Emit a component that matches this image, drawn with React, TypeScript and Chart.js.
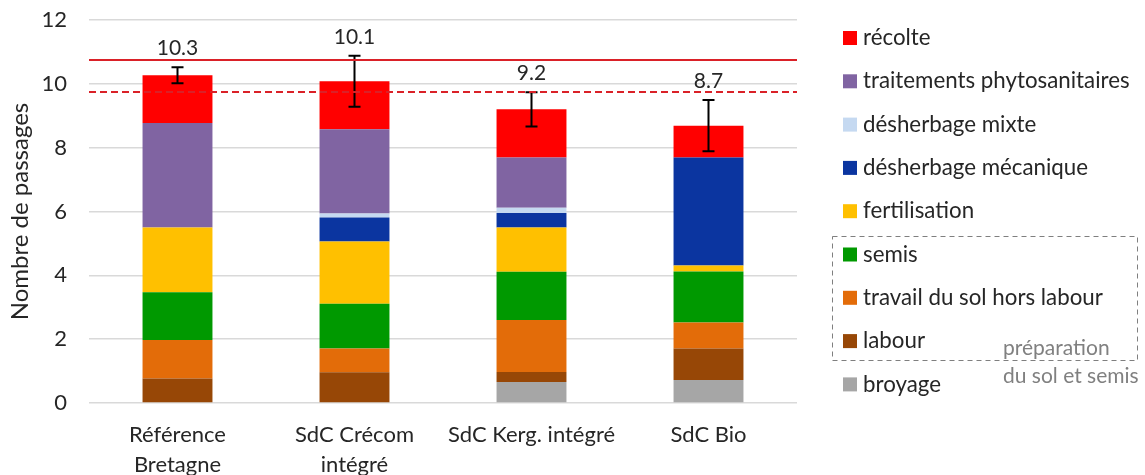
import React, { useEffect, useRef } from "react";
import { Chart, registerables } from "chart.js";

Chart.register(...registerables);

const categories: (string | string[])[] = [
  ["Référence", "Bretagne"],
  ["SdC Crécom", "intégré"],
  "SdC Kerg. intégré",
  "SdC Bio",
];

// stack bottom -> top
const broyage = [0, 0, 0.66, 0.72];
const labour = [0.77, 0.96, 0.31, 0.99];
const travailSol = [1.2, 0.75, 1.63, 0.81];
const semis = [1.5, 1.4, 1.51, 1.6];
const fertilisation = [2.03, 1.95, 1.39, 0.19];
const desherbageMecanique = [0, 0.75, 0.45, 3.38];
const desherbageMixte = [0, 0.13, 0.17, 0];
const traitementsPhyto = [3.27, 2.64, 1.57, 0];
const recolte = [1.5, 1.5, 1.51, 1.0];

const errorPlusMinus = [0.25, 0.8, 0.54, 0.8];
const refLineSolid = 10.74;
const refLineDashed = 9.75;

const yTicks = [0, 2, 4, 6, 8, 10, 12];

const seriesNames = [
  "broyage",
  "labour",
  "travail du sol hors labour",
  "semis",
  "fertilisation",
  "désherbage mécanique",
  "désherbage mixte",
  "traitements phytosanitaires",
  "récolte",
];
const seriesValues = [
  broyage,
  labour,
  travailSol,
  semis,
  fertilisation,
  desherbageMecanique,
  desherbageMixte,
  traitementsPhyto,
  recolte,
];
const seriesColors = [
  "#A6A6A6",
  "#974706",
  "#E36C09",
  "#009900",
  "#FFC000",
  "#0B35A0",
  "#C5D9F1",
  "#8064A2",
  "#FF0000",
];

const FONT = "Lato";
const TEXT = "#262626";

const overlayPlugin = {
  id: "overlay",
  afterDatasetsDraw(chart: any) {
    const { ctx, chartArea, scales } = chart;
    const x = scales.x;
    const y = scales.y;
    ctx.save();
    // error bars + totals
    categories.forEach((_, i) => {
      const total = seriesValues.reduce((s, arr) => s + arr[i], 0);
      const e = errorPlusMinus[i];
      const cx = x.getPixelForValue(i);
      const yTop = y.getPixelForValue(total + e);
      const yBot = y.getPixelForValue(total - e);
      ctx.strokeStyle = "#000000";
      ctx.lineWidth = 2;
      ctx.beginPath();
      ctx.moveTo(cx, yTop);
      ctx.lineTo(cx, yBot);
      ctx.moveTo(cx - 6, yTop);
      ctx.lineTo(cx + 6, yTop);
      ctx.moveTo(cx - 6, yBot);
      ctx.lineTo(cx + 6, yBot);
      ctx.stroke();
      ctx.fillStyle = TEXT;
      ctx.font = `21px ${FONT}`;
      ctx.textAlign = "center";
      ctx.textBaseline = "middle";
      ctx.fillText(total.toFixed(1), cx, yTop - 19);
    });
    // reference lines
    ctx.strokeStyle = "#DA2128";
    ctx.lineWidth = 2;
    ctx.beginPath();
    const ys = Math.round(y.getPixelForValue(refLineSolid));
    ctx.moveTo(chartArea.left, ys);
    ctx.lineTo(chartArea.right, ys);
    ctx.stroke();
    ctx.setLineDash([7, 4]);
    ctx.beginPath();
    const yd = Math.round(y.getPixelForValue(refLineDashed));
    ctx.moveTo(chartArea.left, yd);
    ctx.lineTo(chartArea.right, yd);
    ctx.stroke();
    ctx.setLineDash([]);
    ctx.restore();
  },
  afterDraw(chart: any) {
    const { ctx } = chart;
    ctx.save();
    const boxX = 843;
    const textX = 863;
    const top = 38;
    const step = 43.3;
    const n = seriesNames.length;
    ctx.font = `22.3px ${FONT}`;
    ctx.textBaseline = "middle";
    ctx.textAlign = "left";
    for (let k = 0; k < n; k++) {
      const idx = n - 1 - k;
      const cy = top + k * step;
      ctx.fillStyle = seriesColors[idx];
      ctx.fillRect(boxX, cy - 7, 14, 14);
      ctx.fillStyle = TEXT;
      ctx.fillText(seriesNames[idx], textX, cy);
    }
    // dashed group box
    ctx.strokeStyle = "#7f7f7f";
    ctx.lineWidth = 1;
    ctx.setLineDash([5, 4]);
    ctx.strokeRect(832.5, 236.5, 305, 124);
    ctx.setLineDash([]);
    ctx.fillStyle = "#808080";
    ctx.font = `21px ${FONT}`;
    ctx.fillText("préparation", 1003, 348);
    ctx.fillText("du sol et semis", 1003, 376);
    ctx.restore();
  },
};

export default function App() {
  const ref = useRef<HTMLCanvasElement | null>(null);
  useEffect(() => {
    if (!ref.current) return;
    const chart = new Chart(ref.current, {
      type: "bar",
      data: {
        labels: categories as any,
        datasets: seriesNames.map((name, i) => ({
          label: name,
          data: seriesValues[i],
          backgroundColor: seriesColors[i],
          borderWidth: 0,
          barPercentage: 0.395,
          categoryPercentage: 1,
        })),
      },
      options: {
        animation: false,
        responsive: false,
        maintainAspectRatio: false,
        layout: { padding: { top: 20, right: 348, left: 0, bottom: 0 } },
        plugins: {
          legend: { display: false },
          tooltip: { enabled: false },
        },
        scales: {
          x: {
            stacked: true,
            grid: { display: false, drawTicks: false },
            border: { display: false },
            ticks: {
              color: TEXT,
              font: { family: FONT, size: 22, lineHeight: 1.36 },
              padding: 17,
              maxRotation: 0,
              autoSkip: false,
            },
            afterFit(scale: any) {
              scale.height = 72;
              scale.paddingLeft = 0;
              scale.paddingRight = 0;
            },
          },
          y: {
            stacked: true,
            min: 0,
            max: 12,
            afterBuildTicks(scale: any) {
              scale.ticks = yTicks.map((v) => ({ value: v }));
            },
            grid: { color: "#D9D9D9", lineWidth: 1.5, drawTicks: false },
            border: { display: false },
            ticks: {
              color: TEXT,
              font: { family: FONT, size: 22 },
              padding: 22,
            },
            title: {
              display: true,
              text: "Nombre de passages",
              color: TEXT,
              font: { family: FONT, size: 24 },
              padding: { top: 6, bottom: 0 },
            },
            afterFit(scale: any) {
              scale.width = 89;
              scale.paddingTop = 0;
              scale.paddingBottom = 0;
            },
          },
        },
      },
      plugins: [overlayPlugin],
    });
    return () => chart.destroy();
  }, []);
  return (
    <div style={{ position: "absolute", left: 0, top: 0, width: 1145, height: 475 }}>
      <canvas ref={ref} width={1145} height={475} style={{ width: 1145, height: 475 }} />
    </div>
  );
}
